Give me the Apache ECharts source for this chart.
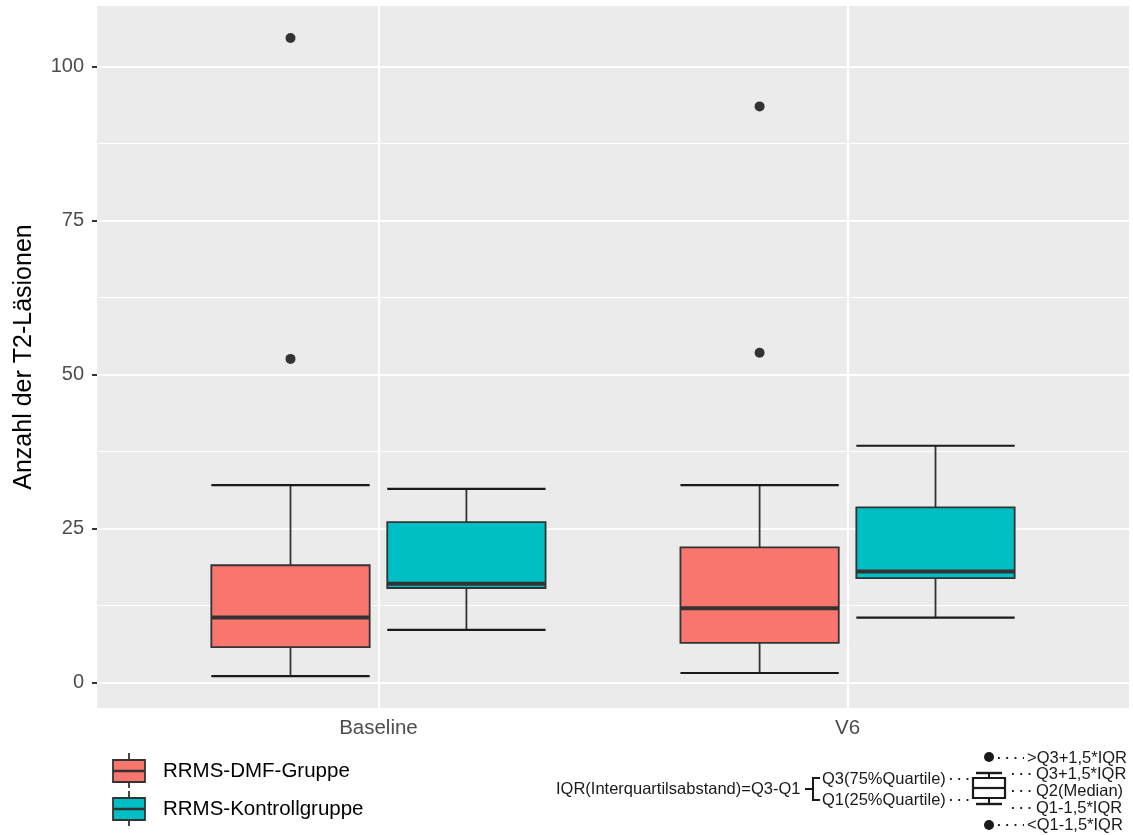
<!DOCTYPE html>
<html>
<head>
<meta charset="utf-8">
<title>Anzahl der T2-Läsionen</title>
<script src="https://cdn.jsdelivr.net/npm/echarts@6/dist/echarts.min.js"></script>
<style>
  html, body { margin: 0; padding: 0; background: #ffffff; }
  #chart { width: 1133px; height: 835px; }
</style>
</head>
<body>
<div id="chart"></div>
<script>
// Visits on the x axis
const categories = ['Baseline', 'V6'];
// Groups (dodged within each visit)
const groups = ['RRMS-DMF-Gruppe', 'RRMS-Kontrollgruppe'];
const groupColors = ['#F8766D', '#00BFC4'];

// Box statistics per visit: [lower whisker, Q1, median, Q3, upper whisker]
const dmfStats = [
  [1.0, 5.7, 10.5, 19.0, 32.0],
  [1.5, 6.4, 12.0, 21.9, 32.0]
];
const kontrollStats = [
  [8.5, 15.3, 16.0, 26.0, 31.4],
  [10.5, 16.9, 18.0, 28.4, 38.4]
];

// Outliers per visit
const dmfOutliers = [
  [52.5, 104.6],
  [53.5, 93.5]
];
const kontrollOutliers = [
  [],
  []
];

// y axis tick labels
const yTicks = [0, 25, 50, 75, 100];
const yMinorLines = [12.5, 37.5, 62.5, 87.5];

const FONT = "'Liberation Sans', Arial, Helvetica, sans-serif";
const DODGE = 0.375;      // slot width of each group within a visit
const BOX_HALF = 0.16875; // half box width in x units

const statsByGroup = [dmfStats, kontrollStats];
const outliersByGroup = [dmfOutliers, kontrollOutliers];

function xPos(ci, gi) {
  return ci + 1 + (gi - 0.5) * DODGE;
}

const boxSeries = groups.map(function (g, gi) {
  const data = statsByGroup[gi].map(function (s, ci) {
    return [xPos(ci, gi)].concat(s);
  });
  return {
    name: g,
    type: 'custom',
    z: 10,
    silent: true,
    encode: { x: 0, y: [1, 2, 3, 4, 5] },
    data: data,
    renderItem: function (params, api) {
      const x = api.value(0);
      const lo = api.value(1), q1 = api.value(2), med = api.value(3),
            q3 = api.value(4), hi = api.value(5);
      const pTL = api.coord([x - BOX_HALF, q3]);
      const pBR = api.coord([x + BOX_HALF, q1]);
      const pMedL = api.coord([x - BOX_HALF, med]);
      const pMedR = api.coord([x + BOX_HALF, med]);
      const pHiL = api.coord([x - BOX_HALF, hi]);
      const pHiR = api.coord([x + BOX_HALF, hi]);
      const pLoL = api.coord([x - BOX_HALF, lo]);
      const pLoR = api.coord([x + BOX_HALF, lo]);
      const pC_hi = api.coord([x, hi]);
      const pC_q3 = api.coord([x, q3]);
      const pC_q1 = api.coord([x, q1]);
      const pC_lo = api.coord([x, lo]);
      const line = function (a, b, w, c) {
        return {
          type: 'line',
          shape: { x1: a[0], y1: a[1], x2: b[0], y2: b[1] },
          style: { stroke: c, lineWidth: w }
        };
      };
      return {
        type: 'group',
        children: [
          line(pC_q3, pC_hi, 1.8, '#333333'),
          line(pC_q1, pC_lo, 1.8, '#333333'),
          line(pHiL, pHiR, 2.2, '#1A1A1A'),
          line(pLoL, pLoR, 2.2, '#1A1A1A'),
          {
            type: 'rect',
            shape: { x: pTL[0], y: pTL[1], width: pBR[0] - pTL[0], height: pBR[1] - pTL[1] },
            style: { fill: groupColors[gi], stroke: '#333333', lineWidth: 1.8 }
          },
          line(pMedL, pMedR, 4, '#333333')
        ]
      };
    }
  };
});

const outlierSeries = groups.map(function (g, gi) {
  const pts = [];
  outliersByGroup[gi].forEach(function (vals, ci) {
    vals.forEach(function (v) { pts.push([xPos(ci, gi), v]); });
  });
  return {
    name: g + ' Ausreißer',
    type: 'scatter',
    z: 11,
    silent: true,
    symbol: 'circle',
    symbolSize: 10,
    itemStyle: { color: '#333333', opacity: 1 },
    data: pts
  };
});

// Panel grid lines (white, ggplot-like), kept beneath the boxes
const gridSeries = {
  type: 'scatter',
  z: 1,
  silent: true,
  data: [],
  markLine: {
    z: 1,
    silent: true,
    symbol: ['none', 'none'],
    label: { show: false },
    animation: false,
    data: []
      .concat(yMinorLines.map(function (v) { return { yAxis: v, lineStyle: { color: '#FFFFFF', width: 1, type: 'solid' } }; }))
      .concat(yTicks.map(function (v) { return { yAxis: v, lineStyle: { color: '#FFFFFF', width: 2, type: 'solid' } }; }))
      .concat(categories.map(function (c, ci) { return { xAxis: ci + 1, lineStyle: { color: '#FFFFFF', width: 2, type: 'solid' } }; }))
  }
};

// Legend and explanation graphics
const legendGraphics = [];
groups.forEach(function (g, gi) {
  const cy = 771 + gi * 38;
  legendGraphics.push(
    { type: 'line', shape: { x1: 129, y1: cy - 18, x2: 129, y2: cy + 17 }, style: { stroke: '#333333', lineWidth: 1.8 } },
    { type: 'rect', shape: { x: 113, y: cy - 11, width: 32, height: 22 }, style: { fill: groupColors[gi], stroke: '#333333', lineWidth: 1.8 } },
    { type: 'line', shape: { x1: 113, y1: cy, x2: 145, y2: cy }, style: { stroke: '#333333', lineWidth: 2.5 } },
    { type: 'text', x: 163, y: cy, style: { text: g, font: '20.5px ' + FONT, fill: '#000000', verticalAlign: 'middle', align: 'left' } }
  );
});

const annFont = '16.5px ' + FONT;
const annColor = '#1A1A1A';
function annText(x, y, t) {
  return { type: 'text', x: x, y: y, style: { text: t, font: annFont, fill: annColor, verticalAlign: 'middle', align: 'left' } };
}
function dotted(x1, x2, y) {
  return { type: 'line', shape: { x1: x1, y1: y, x2: x2, y2: y }, style: { stroke: annColor, lineWidth: 2, lineDash: [1.8, 6.5] } };
}
function solid(x1, y1, x2, y2, w) {
  return { type: 'line', shape: { x1: x1, y1: y1, x2: x2, y2: y2 }, style: { stroke: annColor, lineWidth: w || 2 } };
}
const annGraphics = [
  annText(556, 789, 'IQR(Interquartilsabstand)=Q3-Q1'),
  solid(805, 789, 813, 789, 2),
  solid(813, 778, 813, 800, 2),
  solid(812, 778, 820, 778, 2),
  solid(812, 800, 820, 800, 2),
  annText(822, 779, 'Q3(75%Quartile)'),
  annText(822, 800, 'Q1(25%Quartile)'),
  dotted(950, 972, 779),
  dotted(950, 972, 800),
  // box glyph
  solid(976, 773, 1002, 773, 2.4),
  solid(989, 773, 989, 778, 2),
  { type: 'rect', shape: { x: 973, y: 778, width: 32, height: 20 }, style: { fill: 'none', stroke: annColor, lineWidth: 2.2 } },
  solid(973, 788, 1005, 788, 2.2),
  solid(989, 798, 989, 804, 2),
  solid(976, 804, 1002, 804, 2.4),
  // right column
  { type: 'circle', shape: { cx: 989, cy: 757, r: 5 }, style: { fill: annColor } },
  dotted(998, 1024, 758),
  annText(1027, 758, '>Q3+1,5*IQR'),
  dotted(1012, 1034, 774),
  annText(1036, 774, 'Q3+1,5*IQR'),
  dotted(1012, 1034, 791),
  annText(1036, 791, 'Q2(Median)'),
  dotted(1012, 1034, 808),
  annText(1036, 808, 'Q1-1,5*IQR'),
  { type: 'circle', shape: { cx: 989, cy: 825, r: 5 }, style: { fill: annColor } },
  dotted(998, 1024, 825),
  annText(1027, 825, '<Q1-1,5*IQR')
];

const chart = echarts.init(document.getElementById('chart'), null, { renderer: 'canvas' });
chart.setOption({
  animation: false,
  backgroundColor: '#FFFFFF',
  grid: {
    left: 97, right: 4, top: 6, bottom: 127,
    show: true, backgroundColor: '#EBEBEB', borderWidth: 0
  },
  xAxis: {
    type: 'value',
    min: 0.4,
    max: 2.6,
    axisLine: { show: false },
    splitLine: { show: false },
    axisTick: { show: true, customValues: [1, 2], length: 5, lineStyle: { color: '#333333', width: 2 } },
    axisLabel: {
      customValues: [1, 2],
      formatter: function (v) { return categories[Math.round(v) - 1] || ''; },
      color: '#4D4D4D', fontSize: 20.5, fontFamily: FONT, margin: 10
    }
  },
  yAxis: {
    type: 'value',
    min: -4.18,
    max: 109.8,
    name: 'Anzahl der T2-Läsionen',
    nameLocation: 'middle',
    nameGap: 60,
    nameTextStyle: { color: '#000000', fontSize: 25, fontFamily: FONT },
    axisLine: { show: false },
    splitLine: { show: false },
    axisTick: { show: true, customValues: yTicks, length: 5, lineStyle: { color: '#333333', width: 2 } },
    axisLabel: {
      customValues: yTicks,
      color: '#4D4D4D', fontSize: 20, fontFamily: FONT, margin: 13
    }
  },
  series: [gridSeries].concat(boxSeries).concat(outlierSeries),
  graphic: legendGraphics.concat(annGraphics)
});
</script>
</body>
</html>
